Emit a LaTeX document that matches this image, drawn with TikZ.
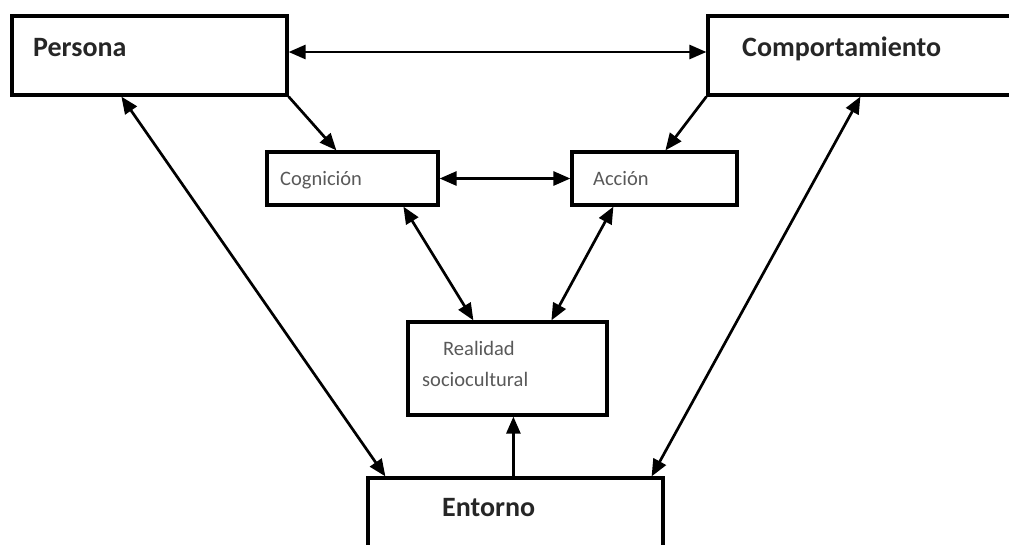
\documentclass[tikz,border=0pt]{standalone}
\usepackage{fontspec}
\setmainfont{Carlito}
\usepackage{tikz}
\usetikzlibrary{arrows.meta,positioning,calc}
\definecolor{txtdark}{HTML}{262626}
\definecolor{txtgray}{HTML}{595959}

\begin{document}
\begin{tikzpicture}[x=1pt,y=-1pt,
  box/.style={draw,line width=3.2pt,minimum width=#1,inner sep=0pt},
  bigtxt/.style={anchor=base west,inner sep=0pt,text=txtdark,font=\fontsize{28}{30}\selectfont\bfseries},
  smalltxt/.style={anchor=base west,inner sep=0pt,text=txtgray,font=\fontsize{20.5}{24}\selectfont},
  arr/.style={line width=2.7pt,-{Triangle[length=17pt,width=14pt]}},
  darr/.style={line width=2.7pt,{Triangle[length=17pt,width=14pt]}-{Triangle[length=17pt,width=14pt]}}]
  \useasboundingbox (0,0) rectangle (1009,544);
  \clip (0,0) rectangle (1009,544);
  % boxes
  \node[box=275pt,minimum height=79pt] (persona) at (149.5,55.5) {};
  \node[box=330pt,minimum height=79pt] (comport) at (873,55.5) {};
  \node[box=171pt,minimum height=53pt] (cognicion) at (352.5,178.5) {};
  \node[box=165pt,minimum height=53pt] (accion) at (654.5,178.5) {};
  \node[box=199pt,minimum height=93pt] (realidad) at (507.5,368.5) {};
  \node[box=295pt,minimum height=100pt] (entorno) at (515.5,528) {};
  % texts
  \node[bigtxt] (personaT) at (33,56) {Persona};
  \node[bigtxt] (comportT) at (742,56) {Comportamiento};
  \node[smalltxt] (cognicionT) at (280,185) {Cognición};
  \node[smalltxt] (accionT) at (593,185) {Acción};
  \node[smalltxt] (realidadT) at (443,355) {Realidad};
  \node[smalltxt] (socioT) at (422,386) {sociocultural};
  \node[bigtxt] (entornoT) at (442,516) {Entorno};
  % connectors
  \draw[darr] ([yshift=3.5pt]persona.east) -- ([yshift=3.5pt]comport.west);
  \draw[darr] (cognicion.east) -- (accion.west);
  \draw[arr] (persona.south east) -- ([xshift=71pt]cognicion.north west);
  \draw[arr] (comport.south west) -- ([xshift=95pt]accion.north west);
  \draw[darr] ([xshift=138pt]cognicion.south west) -- ([xshift=67pt]realidad.north west);
  \draw[darr] ([xshift=43pt]accion.south west) -- ([xshift=145pt]realidad.north west);
  \draw[darr] ([xshift=111pt]persona.south west) -- ([xshift=19pt]entorno.north west);
  \draw[darr] ([xshift=154pt]comport.south west) -- ([xshift=-13pt]entorno.north east);
  \draw[arr] ([xshift=147pt]entorno.north west) -- ([xshift=107pt]realidad.south west);
\end{tikzpicture}
\end{document}
